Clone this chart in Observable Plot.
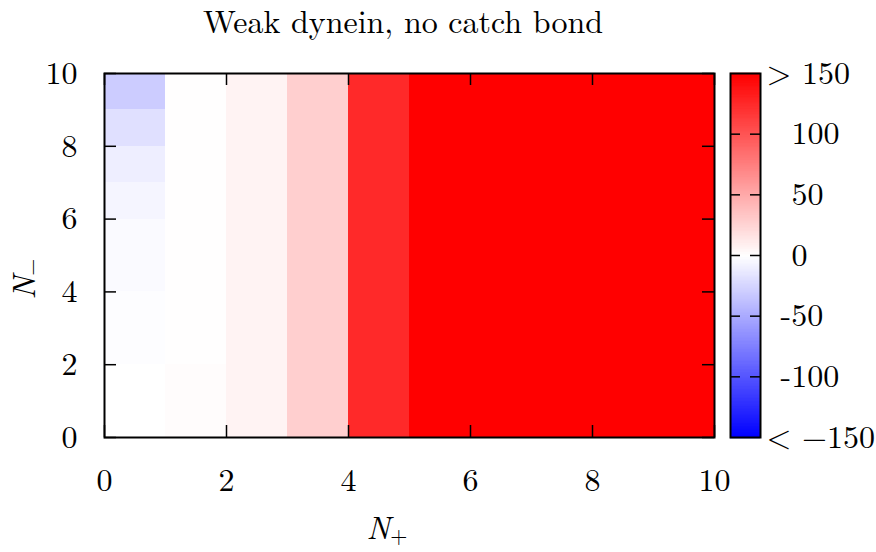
<!DOCTYPE html>
<html><head><meta charset="utf-8">
<script src="https://cdn.jsdelivr.net/npm/d3@7"></script>
<script src="https://cdn.jsdelivr.net/npm/@observablehq/plot@0.6"></script>
<style>
body{margin:0;background:#fff;}
#chart{position:relative;width:876px;height:552px;overflow:hidden;}
#chart svg{position:absolute;left:0;top:0;}
</style></head><body><div id="chart"></div>
<script>
// ---- data ----
const title = "Weak dynein, no catch bond";
const nPlus = [0, 1, 2, 3, 4, 5, 6, 7, 8, 9];
const nMinus = [0, 1, 2, 3, 4, 5, 6, 7, 8, 9];
// value per cell, one array per N+ column (index = N-)
const colNPlus0 = [0, 0, -1, -1, -3, -3, -6, -10, -18, -30];
const colNPlus1 = [1.5, 1.5, 0.5, 0.5, 0.5, 0.5, 0.5, 0.5, 0.5, 0.5];
const colNPlus2 = [7, 7, 7, 7, 7, 7, 7, 7, 7, 7];
const colNPlus3 = [28, 28, 28, 28, 28, 28, 28, 28, 28, 28];
const colNPlus4 = [126, 126, 126, 126, 126, 126, 126, 126, 126, 126];
const colNPlus5 = [170, 170, 170, 170, 170, 170, 170, 170, 170, 170];
const colNPlus6 = [185, 185, 185, 185, 185, 185, 185, 185, 185, 185];
const colNPlus7 = [195, 195, 195, 195, 195, 195, 195, 195, 195, 195];
const colNPlus8 = [205, 205, 205, 205, 205, 205, 205, 205, 205, 205];
const colNPlus9 = [215, 215, 215, 215, 215, 215, 215, 215, 215, 215];
const columns = [colNPlus0, colNPlus1, colNPlus2, colNPlus3, colNPlus4, colNPlus5, colNPlus6, colNPlus7, colNPlus8, colNPlus9];
const axisTicks = [0, 2, 4, 6, 8, 10];
const cbTicks = [-100, -50, 0, 50, 100];
const cbLabelValues = [150, 100, 50, 0, -50, -100, -150];
const cbLabelTexts = ["> 150", "100", "50", "0", "-50", "-100", "< \u2212150"];

// ---- build ----
const FONT = "'Latin Modern Roman', 'Liberation Serif', serif";
const FS = 32;
const cells = nPlus.flatMap((p, i) => nMinus.map((m, j) => ({p, m, v: columns[i][j]})));
const colorOpts = {type: "linear", domain: [-150, 0, 150], range: ["#0000ff", "#ffffff", "#ff0000"], interpolate: "rgb", clamp: true};
const W = 876, H = 552, mT = 73, mB = 115;
const innerH = H - mT - mB;
const tickLen = 12;

const main = Plot.plot({
  width: W, height: H,
  marginLeft: 104, marginRight: 162, marginTop: mT, marginBottom: mB,
  x: {domain: [0, 10]}, y: {domain: [0, 10]},
  color: colorOpts,
  style: {fontFamily: FONT, background: "transparent", color: "black"},
  marks: [
    Plot.rect(cells, {x1: "p", x2: d => d.p + 1, y1: "m", y2: d => d.m + 1, fill: "v", shapeRendering: "crispEdges"}),
    Plot.ruleX(axisTicks, {x: d => d, insetBottom: innerH - tickLen, stroke: "black", strokeWidth: 1.5}),
    Plot.ruleX(axisTicks, {x: d => d, insetTop: innerH - tickLen, stroke: "black", strokeWidth: 1.5}),
    Plot.ruleY(axisTicks, {y: d => d, insetRight: 610 - tickLen, stroke: "black", strokeWidth: 1.5}),
    Plot.ruleY(axisTicks, {y: d => d, insetLeft: 610 - tickLen, stroke: "black", strokeWidth: 1.5}),
    Plot.frame({stroke: "black", strokeWidth: 2}),
    Plot.axisX({ticks: axisTicks, tickSize: 0, tickPadding: 31, fontSize: FS, fontFamily: FONT, label: null, tickFormat: d => String(d)}),
    Plot.axisY({ticks: axisTicks, tickSize: 0, tickPadding: 27, fontSize: FS, fontFamily: FONT, label: null, tickFormat: d => String(d)})
  ]
});

const gradient = d3.range(-150, 150.001, 0.5);
const labels = cbLabelValues.map((v, i) => ({v, t: cbLabelTexts[i]}));
const cb = Plot.plot({
  width: W, height: H,
  marginLeft: 730, marginRight: 116, marginTop: mT, marginBottom: mB,
  x: {domain: [0, 1], axis: null}, y: {domain: [-150, 150], axis: null},
  color: colorOpts,
  style: {fontFamily: FONT, background: "transparent", color: "black"},
  marks: [
    Plot.ruleY(gradient, {y: d => d, stroke: d => d, strokeWidth: 1.5}),
    Plot.ruleY(cbTicks, {y: d => d, insetRight: 20, stroke: "black", strokeWidth: 1.5}),
    Plot.ruleY(cbTicks, {y: d => d, insetLeft: 20, stroke: "black", strokeWidth: 1.5}),
    Plot.frame({stroke: "black", strokeWidth: 2}),
    Plot.text(labels.filter(d => /^[<>]/.test(d.t)), {y: "v", text: "t", frameAnchor: "right", dx: 6, textAnchor: "start", fontSize: FS, fontFamily: FONT, fill: "black"}),
    Plot.text(labels.filter(d => /^-/.test(d.t)), {y: "v", text: "t", frameAnchor: "right", dx: 20, textAnchor: "start", fontSize: FS, fontFamily: FONT, fill: "black"}),
    Plot.text(labels.filter(d => /^[0-9]/.test(d.t)), {y: "v", text: "t", frameAnchor: "right", dx: 31, textAnchor: "start", fontSize: FS, fontFamily: FONT, fill: "black"})
  ]
});

const chart = document.getElementById("chart");
chart.appendChild(main);
chart.appendChild(cb);

// title and axis labels (real text)
const svg = d3.select(main);
svg.append("text").attr("x", 403).attr("y", 33).attr("text-anchor", "middle")
  .style("font-family", FONT).attr("font-size", FS).attr("fill", "black")
  .text(title);
const xl = svg.append("text").attr("x", 387).attr("y", 539).style("font-family", FONT).attr("font-size", FS).attr("fill", "black");
xl.append("tspan").attr("font-style", "italic").text("N");
xl.append("tspan").attr("font-size", 22).attr("dy", 4).text("+");
const yl = svg.append("text").attr("transform", "translate(35,279) rotate(-90)").style("font-family", FONT).attr("font-size", FS).attr("fill", "black");
yl.append("tspan").attr("font-style", "italic").text("N");
yl.append("tspan").attr("font-size", 22).attr("dy", 4).text("\u2212");
</script></body></html>
